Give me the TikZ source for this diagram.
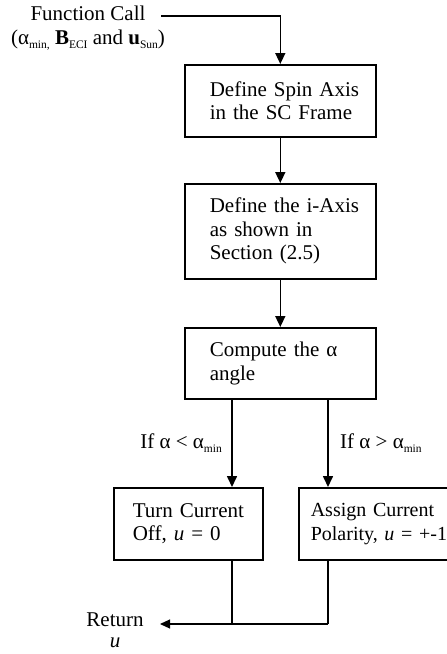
\documentclass[tikz,border=0pt]{standalone}
\usepackage{fontspec}
\setmainfont{Liberation Serif}
\usetikzlibrary{arrows.meta}
\newcommand\lowsub[1]{\raisebox{-0.22em}{\fontsize{11.5}{12}\selectfont #1}}
\begin{document}
\begin{tikzpicture}[x=1pt,y=-1pt,
  every node/.style={font=\fontsize{21}{23.5}\selectfont},
  box/.style={draw, line width=1.6pt, align=left, inner ysep=0pt, anchor=north west},
  arr/.style={line width=1.6pt, -{Triangle[length=11pt,width=10pt]}},
  thinline/.style={line width=1.1pt},
  thinarr/.style={line width=1.1pt, -{Triangle[length=10pt,width=9pt]}},
  txt/.style={inner sep=0pt}]
\useasboundingbox (0,0) rectangle (447,654);

\node[txt, align=center, anchor=north] (fc) at (88,6)
  {Function Call\\(α\lowsub{min,} \textbf{B}\lowsub{ECI} and \textbf{u}\lowsub{Sun})};
\coordinate (fcout) at (161,16);

\node[box, text width=141pt, inner xsep=25pt, minimum height=72pt] (b1) at (184,64)
  {\mbox{Define Spin Axis}\\\mbox{in the SC Frame}};
\node[box, text width=141pt, inner xsep=25pt, minimum height=95pt] (b2) at (184,183)
  {\mbox{Define the i-Axis}\\\mbox{as shown in}\\\mbox{Section (2.5)}};
\node[box, text width=141pt, inner xsep=25pt, minimum height=71pt] (b3) at (184,327)
  {\mbox{Compute the α}\\\mbox{angle}};
\node[box, text width=111pt, inner xsep=19pt, minimum height=72pt] (b4) at (113,487)
  {\mbox{Turn Current}\\\mbox{Off, \textit{u} = 0}};
\node[box, text width=162pt, inner xsep=12pt, minimum height=72pt,
      font=\fontsize{20}{23.5}\selectfont] (b5) at (298,487)
  {\mbox{Assign Current}\\\mbox{Polarity, \textit{u} = +-1}};

\node[txt, anchor=base east] (l1) at (222,448) {If α < α\lowsub{min}};
\node[txt, anchor=base west] (l2) at (340,448) {If α > α\lowsub{min}};

\node[txt, align=center, anchor=north, font=\fontsize{21}{21}\selectfont] (ret) at (115,613) {Return\\\textit{u}};
\coordinate (retin) at (160,624);
\coordinate (join) at (328,624);

\draw[arr] (fcout) -| (b1.north);
\draw[arr] (b1) -- (b2);
\draw[arr] (b2) -- (b3);
\draw[arr] ([xshift=48pt]b3.south west) -- ([xshift=48pt]b3.south west |- b4.north);
\draw[arr] ([xshift=144pt]b3.south west) -- ([xshift=144pt]b3.south west |- b5.north);
\draw[thinline] ([xshift=119pt]b4.south west) -- ([xshift=119pt]b4.south west |- join);
\draw[thinline] ([xshift=30pt]b5.south west) -- (join);
\draw[thinarr] (join) -- (retin);
\end{tikzpicture}
\end{document}
